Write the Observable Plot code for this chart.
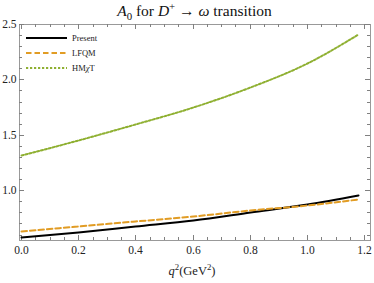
<!DOCTYPE html>
<html>
<head>
<meta charset="utf-8">
<script src="https://cdn.jsdelivr.net/npm/d3@7"></script>
<script src="https://cdn.jsdelivr.net/npm/@observablehq/plot@0.6"></script>
<style>
  html, body { margin: 0; padding: 0; background: #fff; }
  #wrap { position: relative; width: 374px; height: 283px; font-family: "Liberation Serif", "Times New Roman", serif; }
  #title { position: absolute; left: 0; width: 389px; top: 2px; text-align: center; font-size: 15.5px; line-height: 18px; color: #111; }
  #xlabel { position: absolute; left: 0; width: 384px; top: 263px; text-align: center; font-size: 12.5px; line-height: 16px; color: #222; }
  #legend { position: absolute; left: 26px; top: 31px; font-size: 8.5px; color: #222; }
  #legend .row { display: flex; align-items: center; height: 14.7px; }
  #legend svg { margin-right: 4px; }
  sub, sup { font-size: 70%; line-height: 0; }
  svg text { font-family: "Liberation Serif", "Times New Roman", serif; }
</style>
</head>
<body>
<div id="wrap">
  <div id="chart"></div>
  <div id="title"><i>A</i><sub>0</sub> for <i>D</i><sup>+</sup> → <i>ω</i> transition</div>
  <div id="xlabel"><i>q</i><sup>2</sup>(GeV<sup>2</sup>)</div>
  <div id="legend"></div>
</div>
<script>
// Data
const q2      = [0, 0.2, 0.4, 0.6, 0.8, 1.0, 1.18];
const present = [0.580, 0.626, 0.676, 0.733, 0.800, 0.878, 0.953];
const lfqm    = [0.632, 0.675, 0.720, 0.768, 0.818, 0.870, 0.918];
const hmxt    = [1.319, 1.455, 1.600, 1.755, 1.935, 2.150, 2.413];

const seriesNames = ["Present", "LFQM", "HMχT"];
const seriesColors = ["#000000", "#E19C24", "#8FB032"];
const seriesDash = [null, "5.5,3", "2.2,1.8"];

const xMajor = [0, 0.2, 0.4, 0.6, 0.8, 1.0, 1.2];
const xTickLabels = ["0.0", "0.2", "0.4", "0.6", "0.8", "1.0", "1.2"];
const xMinor = [0.05, 0.1, 0.15, 0.25, 0.3, 0.35, 0.45, 0.5, 0.55, 0.65, 0.7, 0.75, 0.85, 0.9, 0.95, 1.05, 1.1, 1.15];
const yMajor = [1.0, 1.5, 2.0, 2.5];
const yTickLabels = ["1.0", "1.5", "2.0", "2.5"];
const yMinor = [0.6, 0.7, 0.8, 0.9, 1.1, 1.2, 1.3, 1.4, 1.6, 1.7, 1.8, 1.9, 2.1, 2.2, 2.3, 2.4];

const rows = [];
[present, lfqm, hmxt].forEach((vals, s) => {
  q2.forEach((q, i) => rows.push({series: seriesNames[s], q, v: vals[i]}));
});

const W = 374, H = 283, mL = 19, mR = 4, mT = 24, mB = 43;
const fw = W - mL - mR, fh = H - mT - mB;
const frameColor = "#999999";
const tickColor = "#808080";
const font = "'Liberation Serif', 'Times New Roman', serif";

// inward-pointing frame ticks (Mathematica style), via insets on full-frame ticks
const tickMarks = [];
for (const [xt, yt, len] of [[xMajor, yMajor, 5], [xMinor, yMinor, 3]]) {
  tickMarks.push(Plot.tickX(xt, {x: d => d, insetTop: fh - len, stroke: tickColor, strokeWidth: 1}));
  tickMarks.push(Plot.tickX(xt, {x: d => d, insetBottom: fh - len, stroke: tickColor, strokeWidth: 1}));
  tickMarks.push(Plot.tickY(yt, {y: d => d, insetRight: fw - len, stroke: tickColor, strokeWidth: 1}));
  tickMarks.push(Plot.tickY(yt, {y: d => d, insetLeft: fw - len, stroke: tickColor, strokeWidth: 1}));
}

const chart = Plot.plot({
  width: W,
  height: H,
  marginLeft: mL,
  marginRight: mR,
  marginTop: mT,
  marginBottom: mB,
  style: {fontFamily: font, fontSize: "11.5px", color: "#222", background: "#fff"},
  x: {domain: [-0.007, 1.2203], round: true},
  y: {domain: [0.551, 2.5], round: true},
  marks: [
    Plot.axisX(xMajor, {anchor: "bottom", tickSize: 0, tickPadding: 5, fontSize: 11.5, fontFamily: font, tickFormat: d => xTickLabels[xMajor.indexOf(d)], label: null}),
    Plot.axisY(yMajor, {anchor: "left", tickSize: 0, tickPadding: 3, fontSize: 11.5, fontFamily: font, tickFormat: d => yTickLabels[yMajor.indexOf(d)], label: null}),
    Plot.frame({stroke: frameColor, strokeWidth: 1}),
    ...tickMarks,
    ...seriesNames.map((name, s) => Plot.line(rows.filter(r => r.series === name), {
      x: "q", y: "v", curve: "monotone-x",
      stroke: seriesColors[s], strokeWidth: 2,
      strokeDasharray: seriesDash[s]
    }))
  ]
});
document.getElementById("chart").appendChild(chart);

// Legend
const legend = d3.select("#legend");
seriesNames.forEach((name, s) => {
  const row = legend.append("div").attr("class", "row");
  const svg = row.append("svg").attr("width", 42).attr("height", 6);
  svg.append("line").attr("x1", 0).attr("x2", 41).attr("y1", 3).attr("y2", 3)
    .attr("stroke", seriesColors[s]).attr("stroke-width", 2)
    .attr("stroke-dasharray", seriesDash[s]);
  const span = row.append("span");
  if (name === "HMχT") span.html("HM<i>χ</i>T"); else span.text(name);
});
</script>
</body>
</html>
